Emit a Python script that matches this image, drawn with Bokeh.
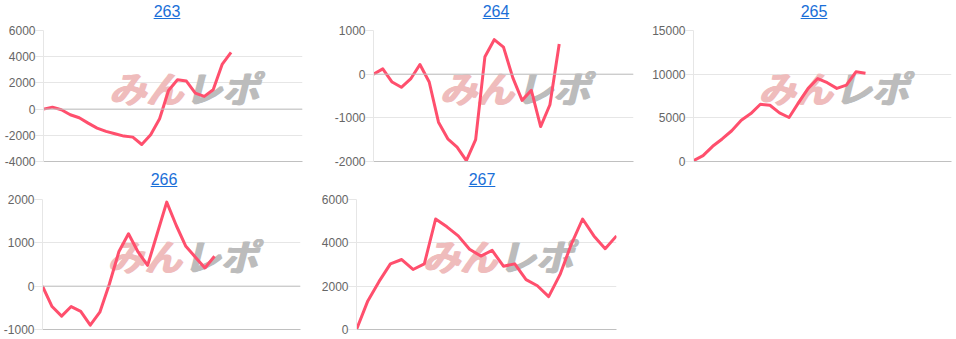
from bokeh.plotting import figure
from bokeh.layouts import column, row
from bokeh.models import Div, FixedTicker, Span, ColumnDataSource
from bokeh.embed import file_html
from bokeh.resources import INLINE
from bokeh.core.properties import value

# ---- data ----
titles = ["263", "264", "265", "266", "267"]
label_counts = [30, 29, 28, 28, 24]
v263 = [0, 150, -50, -430, -660, -1070, -1450, -1700, -1880, -2060, -2140, -2700,
        -1960, -740, 1420, 2240, 2140, 1220, 970, 1480, 3410, 4330]
v264 = [0, 120, -180, -300, -110, 220, -180, -1100, -1480, -1670, -1980, -1500,
        400, 790, 620, -80, -600, -370, -1200, -700, 690]
v265 = [100, 680, 1740, 2580, 3520, 4730, 5490, 6550, 6440, 5570, 5040, 6740,
        8370, 9500, 9020, 8370, 8750, 10270, 10110]
v266 = [0, -470, -690, -470, -580, -900, -600, 50, 800, 1210, 790, 480, 1210,
        1940, 1400, 920, 670, 420, 690]
v267 = [0, 1320, 2220, 3030, 3230, 2770, 3030, 5100, 4740, 4320, 3700, 3390, 3650,
        2920, 3030, 2300, 2020, 1520, 2530, 3930, 5100, 4320, 3730, 4320]
series = [v263, v264, v265, v266, v267]
y_ticks = [
    [-4000, -2000, 0, 2000, 4000, 6000],
    [-2000, -1000, 0, 1000],
    [0, 5000, 10000, 15000],
    [-1000, 0, 1000, 2000],
    [0, 2000, 4000, 6000],
]

# ---- layout / style ----
cell_w = [318, 318, 320, 318, 318]
fig_h = [144, 144, 144, 147, 147]
b_left = [43, 55, 57, 42, 38]
b_right = [16, 3, 5, 18, 20]
b_top = [6, 6, 6, 7, 7]
b_bot = [7, 7, 7, 10, 10]
title_off = [8, 19, 18, 5, 5]
LINE = "#ff4f6d"
GRID = "#e6e6e6"
ZERO = "#c0c0c0"
FONT = "Liberation Sans"


def make_cell(i):
    n = label_counts[i]
    vals = series[i]
    ticks = y_ticks[i]
    w = cell_w[i]
    div = Div(
        text=(f'<div style="width:{w}px;height:24px;line-height:24px;text-align:center;'
              f'font-family:Arial,\'Liberation Sans\',sans-serif;font-size:16px;">'
              f'<span style="position:relative;left:{title_off[i]}px;color:#1a6fd8;'
              f'text-decoration:underline;">{titles[i]}</span></div>'),
        width=w, height=24, margin=0)
    p = figure(width=w, height=fig_h[i], output_backend="svg", toolbar_location=None,
               x_range=(0, n - 1), y_range=(ticks[0], ticks[-1]),
               min_border_left=b_left[i], min_border_right=b_right[i],
               min_border_top=b_top[i], min_border_bottom=b_bot[i],
               x_axis_location="below", margin=0)
    p.outline_line_color = None
    p.background_fill_color = "white"
    p.border_fill_color = "white"
    p.xgrid.visible = False
    p.ygrid.grid_line_color = GRID
    p.ygrid.ticker = FixedTicker(ticks=ticks)

    ya = p.yaxis[0]
    ya.axis_label = None
    ya.axis_label_standoff = 0
    ya.ticker = FixedTicker(ticks=ticks)
    ya.major_label_overrides = {t: str(t) for t in ticks}
    ya.axis_line_color = GRID
    ya.major_tick_line_color = GRID
    ya.major_tick_out = 8
    ya.major_tick_in = 0
    ya.minor_tick_line_color = None
    ya.major_label_standoff = 0
    ya.major_label_text_font = FONT
    ya.major_label_text_font_size = "12px"
    ya.major_label_text_color = "#666666"

    xa = p.xaxis[0]
    xa.axis_label = None
    xa.axis_label_standoff = 0
    xa.ticker = FixedTicker(ticks=[])
    xa.axis_line_color = ZERO
    xa.major_tick_line_color = None
    xa.minor_tick_line_color = None
    xa.major_label_standoff = 0

    if ticks[0] < 0:
        p.add_layout(Span(location=0, dimension="width", line_color=ZERO, line_width=1))

    # watermark
    x0, x1 = 0, n - 1
    y0, y1 = ticks[0], ticks[-1]
    wx = x0 + 0.54 * (x1 - x0)
    wy = y1 - 0.43 * (y1 - y0)
    for dx in (0, 1, 2):
        p.text(x=[wx], y=[wy], text=["みん"], text_align="right", text_baseline="middle",
               x_offset=dx - 1, text_font=value("Noto Sans CJK JP"),
               text_font_style="bold italic", text_font_size="37px", text_color="#efbcbc")
        p.text(x=[wx], y=[wy], text=["レポ"], text_align="left", text_baseline="middle",
               x_offset=dx + 1, text_font=value("Noto Sans CJK JP"),
               text_font_style="bold italic", text_font_size="37px", text_color="#bcbcbc")

    src = ColumnDataSource(dict(x=list(range(len(vals))), y=vals))
    p.line("x", "y", source=src, line_color=LINE, line_width=3, line_join="round")
    return column(div, p, spacing=0, margin=0)


cells = [make_cell(i) for i in range(5)]
layout = column(row(cells[0], cells[1], cells[2], spacing=0, margin=0),
                row(cells[3], cells[4], spacing=0, margin=0),
                spacing=0, margin=0)

open("out.html", "w").write(file_html(layout, INLINE))
